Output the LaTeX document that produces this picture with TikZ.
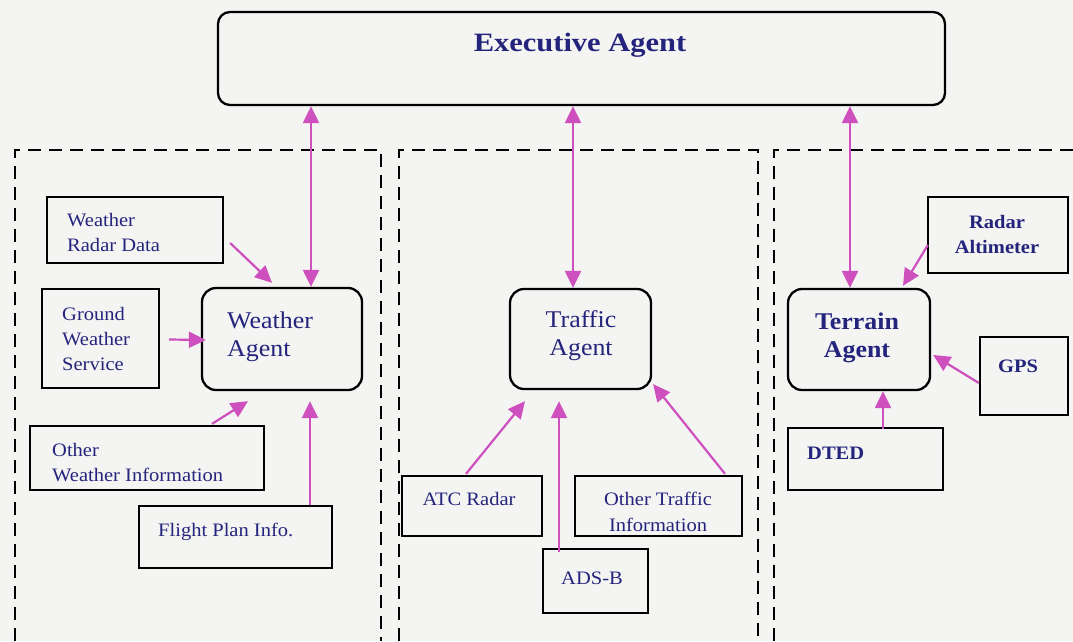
\documentclass[tikz,border=0pt]{standalone}
\usepackage{fontspec}
\setmainfont[FakeStretch=1.08]{Liberation Serif}
\newfontfamily\execfont[FakeStretch=1.15]{Liberation Serif}
\usetikzlibrary{arrows.meta,fit}
\definecolor{txtblue}{RGB}{36,36,125}
\definecolor{arrmag}{RGB}{205,80,190}
\definecolor{bgcol}{RGB}{244,244,242}
\begin{document}
\begin{tikzpicture}[x=1pt,y=-1pt,
  sbox/.style={draw=black,line width=2.3pt,inner sep=0pt},
  rbox/.style={sbox,rounded corners=14pt},
  small/.style={text=txtblue,font=\fontsize{19}{25}\selectfont,inner sep=0pt},
  smallb/.style={text=txtblue,font=\fontsize{19}{25}\selectfont\bfseries,inner sep=0pt},
  big/.style={text=txtblue,font=\fontsize{24}{28}\selectfont,inner sep=0pt},
  bigb/.style={text=txtblue,font=\fontsize{24}{28}\selectfont\bfseries,inner sep=0pt},
  arr/.style={draw=arrmag,line width=2.2pt,-{Triangle[length=17pt,width=16pt]}},
  darr/.style={draw=arrmag,line width=2.2pt,{Triangle[length=17pt,width=16pt]}-{Triangle[length=17pt,width=16pt]}},
  panel/.style={draw=black,line width=2.2pt,dash pattern=on 13pt off 8pt},
]
\fill[bgcol] (0,0) rectangle (1073,641);
\useasboundingbox (0,0) rectangle (1073,641);

% dashed panels
\draw[panel] (15,641) -- (15,150) -- (381,150) -- (381,641);
\draw[panel] (399,641) -- (399,150) -- (758,150) -- (758,641);
\draw[panel] (774,641) -- (774,150) -- (1073,150);

% executive
\node[rbox,rounded corners=12pt,fit={(218,12) (945,105)}] (exec) {};
\node[text=txtblue,font=\execfont\fontsize{26.5}{30}\selectfont\bfseries,inner sep=0pt,anchor=base] (exect) at (580,51) {Executive Agent};

% weather panel
\node[rbox,fit={(202,288) (362,390)}] (weather) {};
\node[big,anchor=north west,align=left] (weathert) at (227,312) {Weather\\Agent};
\node[sbox,fit={(47,197) (223,263)}] (wrd) {};
\node[small,anchor=north west,align=left] (wrdt) at (67,213) {Weather\\Radar Data};
\node[sbox,fit={(42,289) (159,388)}] (gws) {};
\node[small,anchor=north west,align=left] (gwst) at (62,307) {Ground\\Weather\\Service};
\node[sbox,fit={(30,426) (264,490)}] (owi) {};
\node[small,anchor=north west,align=left] (owit) at (52,443) {Other\\Weather Information};
\node[sbox,fit={(139,506) (332,568)}] (fpi) {};
\node[small,anchor=north west] (fpit) at (158,523) {Flight Plan Info.};

% traffic panel
\node[rbox,fit={(510,289) (651,389)}] (traffic) {};
\node[big,anchor=north,align=center] (traffict) at (581,310) {Traffic\\Agent};
\node[sbox,fit={(402,476) (542,536)}] (atc) {};
\node[small,anchor=north] (atct) at (469,492) {ATC Radar};
\node[sbox,fit={(575,476) (742,536)}] (oti) {};
\node[small,anchor=north,align=center,font=\fontsize{19}{26}\selectfont] (otit) at (658,492) {Other Traffic\\Information};
\node[sbox,fit={(543,549) (648,613)}] (ads) {};
\node[small,anchor=north] (adst) at (592,572) {ADS-B};

% terrain panel
\node[rbox,fit={(788,289) (930,390)}] (terrain) {};
\node[bigb,anchor=north,align=center] (terraint) at (857,313) {Terrain\\Agent};
\node[sbox,fit={(928,197) (1068,273)}] (ra) {};
\node[smallb,anchor=north,align=center] (rat) at (997,215) {Radar\\Altimeter};
\node[sbox,fit={(980,337) (1068,415)}] (gps) {};
\node[smallb,anchor=north] (gpst) at (1018,360) {GPS};
\node[sbox,fit={(788,428) (943,490)}] (dted) {};
\node[smallb,anchor=north west] (dtedt) at (807,447) {DTED};

% connectors
\draw[darr] ([xshift=29pt]weather.north) -- ([xshift=29pt]weather.north |- exec.south);
\draw[darr] ([xshift=-7.5pt]traffic.north) -- ([xshift=-7.5pt]traffic.north |- exec.south);
\draw[darr] ([xshift=-9pt]terrain.north) -- ([xshift=-9pt]terrain.north |- exec.south);

\draw[arr] ([shift={(6,13)}]wrd.east) -- ([shift={(-10,-4)}]weather.north);
\draw[arr] ([shift={(9,1)}]gws.east) -- ([shift={(5,1)}]weather.west);
\draw[arr] ([shift={(65,-1)}]owi.north) -- ([shift={(-34,10)}]weather.south);
\draw[arr] ([shift={(74.5,0)}]fpi.north) -- ([shift={(28,10)}]weather.south);

\draw[arr] ([shift={(-6,-1)}]atc.north) -- ([shift={(-55.5,11)}]traffic.south);
\draw[arr] ([shift={(-36.5,4)}]ads.north) -- ([shift={(-21.5,11)}]traffic.south);
\draw[arr] ([shift={(66.5,-1)}]oti.north) -- ([shift={(1,-6)}]traffic.south east);

\draw[arr] ([shift={(1,10)}]ra.west) -- ([shift={(44,-2)}]terrain.north);
\draw[arr] ([shift={(0,7)}]gps.west) -- ([shift={(2,15.5)}]terrain.east);
\draw[arr] ([shift={(17.5,2)}]dted.north) -- ([shift={(24,0)}]terrain.south);
\end{tikzpicture}
\end{document}
